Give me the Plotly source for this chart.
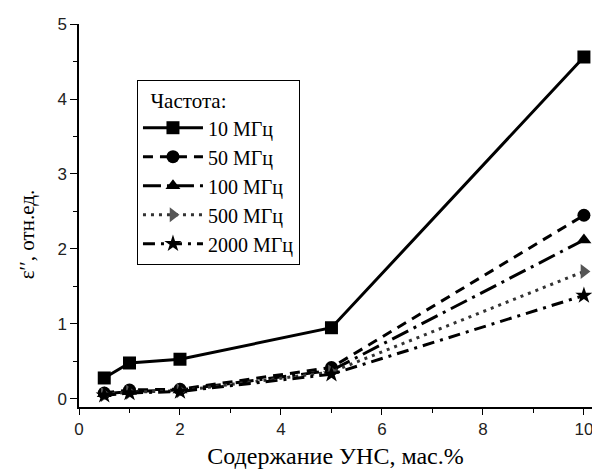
import plotly.graph_objects as go

x_vals = [0.5, 1, 2, 5, 10]
series_names = ["10 МГц", "50 МГц", "100 МГц", "500 МГц", "2000 МГц"]
y_10 = [0.28, 0.48, 0.53, 0.95, 4.56]
y_50 = [0.08, 0.12, 0.13, 0.42, 2.45]
y_100 = [0.07, 0.10, 0.12, 0.38, 2.12]
y_500 = [0.06, 0.09, 0.11, 0.36, 1.70]
y_2000 = [0.05, 0.08, 0.10, 0.33, 1.38]
x_ticks = [0, 2, 4, 6, 8, 10]
y_ticks = [0, 1, 2, 3, 4, 5]

styles = [
    dict(dash="solid", symbol="square", color="#000000", mcolor="#000000"),
    dict(dash="10px,7px", symbol="circle", color="#000000", mcolor="#000000"),
    dict(dash="18px,6px,3px,6px", symbol="triangle-up", color="#000000", mcolor="#000000"),
    dict(dash="3px,5px", symbol="triangle-right", color="#333333", mcolor="#555555"),
    dict(dash="12px,6px,3px,6px", symbol="star", color="#000000", mcolor="#000000"),
]

fig = go.Figure()
for name, ys, st in zip(series_names, [y_10, y_50, y_100, y_500, y_2000], styles):
    fig.add_trace(go.Scatter(
        x=x_vals, y=ys, name=name, mode="lines+markers",
        line=dict(color=st["color"], width=3, dash=st["dash"]),
        marker=dict(symbol=st["symbol"], size=13, color=st["mcolor"]),
    ))

fig.update_layout(
    width=592, height=469,
    margin=dict(l=79, r=0, t=24, b=62),
    plot_bgcolor="white", paper_bgcolor="white",
    showlegend=True,
    legend=dict(
        x=0.113, y=0.854, xanchor="left", yanchor="top",
        bordercolor="black", borderwidth=1, bgcolor="white",
        font=dict(family="Liberation Serif", size=20, color="black"),
        title=dict(text="\u00a0\u00a0Частота:", font=dict(family="Liberation Serif", size=21, color="black")),
        tracegroupgap=0, itemwidth=60,
    ),
    annotations=[dict(
        text="ε′′, отн.ед.", xref="paper", yref="paper", x=-0.101, y=0.449,
        xanchor="center", yanchor="middle", textangle=-90, showarrow=False,
        font=dict(family="Liberation Serif", size=21, color="black"),
    )],
)
fig.update_xaxes(
    range=[0, 10.16], tickvals=x_ticks, showgrid=False, zeroline=False,
    showline=True, linecolor="black", linewidth=1.5,
    ticks="outside", ticklen=6, tickwidth=1, tickcolor="black",
    minor=dict(ticks="outside", dtick=1, ticklen=4, tickcolor="black"),
    tickfont=dict(family="Liberation Sans", size=17, color="#222"),
    ticklabeloverflow="allow",
    title=dict(text="Содержание УНС, мас.%", font=dict(family="Liberation Serif", size=24, color="black"), standoff=10),
)
fig.update_yaxes(
    range=[-0.107, 5], tickvals=y_ticks, showgrid=False, zeroline=False,
    showline=True, linecolor="black", linewidth=1.5,
    ticks="outside", ticklen=7, tickwidth=1, tickcolor="black",
    minor=dict(ticks="outside", dtick=0.5, ticklen=4, tickcolor="black"),
    tickfont=dict(family="Liberation Sans", size=17, color="#222"),
)
fig.write_html("out.html")
